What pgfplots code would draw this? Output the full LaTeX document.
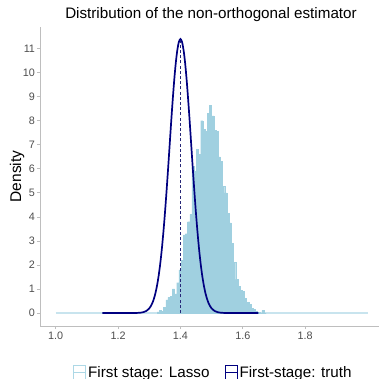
\documentclass[border=0pt]{standalone}
\usepackage{fontspec}
\setmainfont{Liberation Sans}
\usepackage{pgfplots}
\pgfplotsset{compat=1.18}
\definecolor{histfill}{RGB}{160,208,224}
\definecolor{lblue}{RGB}{173,216,230}
\definecolor{baseblue}{RGB}{200,228,238}
\definecolor{navyc}{RGB}{0,0,128}
\definecolor{vline}{RGB}{40,40,120}
\definecolor{axgray}{RGB}{190,190,190}
\definecolor{tickgray}{RGB}{77,77,77}
\begin{document}
\begin{tikzpicture}
\path[use as bounding box] (-40bp,-53bp) rectangle (339bp,326bp);
\begin{axis}[
  at={(0,0)}, anchor=south west,
  scale only axis, width=339bp, height=299bp,
  xmin=0.9497, xmax=2.0366, ymin=-0.54, ymax=11.9,
  axis x line*=bottom, axis y line*=left,
  axis line style={axgray, line width=1bp, -},
  xtick={1.0,1.2,1.4,1.6,1.8},
  xticklabels={1.0,1.2,1.4,1.6,1.8},
  ytick={0,1,2,3,4,5,6,7,8,9,10,11},
  tick style={axgray, line width=0.7bp},
  tick align=outside, major tick length=3bp,
  ticklabel style={font=\fontsize{10.8bp}{11bp}\selectfont, text=tickgray},
  xticklabel style={yshift=0.5bp},
  yticklabel style={xshift=1.5bp},
  /pgf/number format/assume math mode=true,
  clip=false,
  legend columns=2,
  legend style={draw=none, fill=none, font=\fontsize{15.2bp}{17bp}\selectfont,
    at={(33bp,-38bp)}, anchor=north west, inner sep=0pt,
    /tikz/every even column/.append style={column sep=13bp}},
  legend cell align=left,
]
\addlegendimage{legend image code/.code={\draw[lblue, line width=1bp, fill=white] (0bp,-7bp) rectangle (12bp,7bp); \draw[lblue, line width=1bp] (0bp,0bp) -- (12bp,0bp);}}
\addlegendentry{First stage: Lasso}
\addlegendimage{legend image code/.code={\draw[navyc, line width=1bp, fill=white] (0bp,-7bp) rectangle (12bp,7bp); \draw[navyc, line width=1bp] (0bp,0bp) -- (12bp,0bp);}}
\addlegendentry{First-stage: truth}

\addplot[forget plot, baseblue, line width=1.7bp] coordinates {(1.0,0) (2.0,0)};
\addplot[forget plot, ybar interval, fill=histfill, draw=histfill, line width=0.3bp] coordinates {
(1.325,0.05) (1.332,0.1) (1.339,0.08) (1.346,0.25) (1.353,0.55) (1.360,0.65)
(1.367,0.7) (1.374,1.0) (1.381,0.8) (1.388,1.26) (1.395,1.8) (1.402,2.2)
(1.409,3.25) (1.416,3.3) (1.423,3.8) (1.430,4.1) (1.437,6.1) (1.444,5.9)
(1.451,6.8) (1.458,6.6) (1.465,8.0) (1.472,7.65) (1.479,7.55) (1.486,8.3)
(1.493,8.63) (1.500,8.2) (1.507,7.6) (1.514,7.55) (1.521,6.5) (1.528,6.3)
(1.535,5.26) (1.542,5.0) (1.549,4.15) (1.556,3.75) (1.563,2.9) (1.570,2.1)
(1.577,1.4) (1.584,1.1) (1.591,0.95) (1.598,0.9) (1.605,0.6) (1.612,0.45)
(1.619,0.35) (1.626,0.2) (1.633,0.15) (1.640,0.08) (1.647,0.03) (1.654,0)
(1.661,0.1) (1.668,0) (1.675,0)
};
\addplot[forget plot, vline, dash pattern=on 3bp off 2.2bp, line width=1.5bp] coordinates {(1.4,0) (1.4,11.3)};
\addplot[forget plot, navyc, line width=1.7bp, smooth] coordinates {
(1.15,0) (1.20,0) (1.25,0.001) (1.26,0.0038) (1.27,0.0115) (1.28,0.0319)
(1.29,0.0816) (1.30,0.192) (1.305,0.286) (1.31,0.418) (1.315,0.597)
(1.32,0.837) (1.325,1.148) (1.33,1.54) (1.335,2.03) (1.34,2.62)
(1.345,3.32) (1.35,4.11) (1.355,4.99) (1.36,5.93) (1.365,6.91)
(1.37,7.90) (1.375,8.83) (1.38,9.68) (1.385,10.40) (1.39,10.94)
(1.395,11.28) (1.40,11.40)
(1.405,11.28) (1.41,10.94) (1.415,10.40) (1.42,9.68) (1.425,8.83)
(1.43,7.90) (1.435,6.91) (1.44,5.93) (1.445,4.99) (1.45,4.11)
(1.455,3.32) (1.46,2.62) (1.465,2.03) (1.47,1.54) (1.475,1.148)
(1.48,0.837) (1.485,0.597) (1.49,0.418) (1.495,0.286) (1.50,0.192)
(1.51,0.0816) (1.52,0.0319) (1.53,0.0115) (1.54,0.0038) (1.55,0.001)
(1.60,0) (1.65,0)
};
\end{axis}
\node[anchor=base, font=\fontsize{15.2bp}{17bp}\selectfont] at (171bp,307.3bp) {Distribution of the non-orthogonal estimator};
\node[anchor=base, rotate=90, font=\fontsize{15.5bp}{17bp}\selectfont] at (-19bp,149.5bp) {Density};
\end{tikzpicture}
\end{document}
